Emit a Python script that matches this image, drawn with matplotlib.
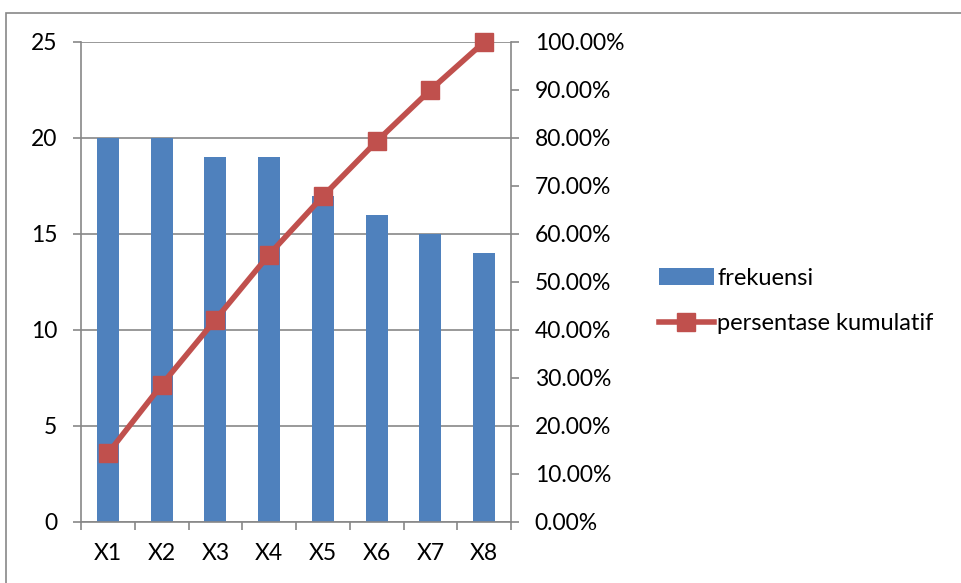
import numpy as np
from matplotlib import pyplot as plt
from matplotlib.patches import Rectangle

categories = ["X1", "X2", "X3", "X4", "X5", "X6", "X7", "X8"]
frekuensi = [20, 20, 19, 19, 17, 16, 15, 14]
persen_kumulatif = [14.29, 28.57, 42.14, 55.71, 67.86, 79.29, 90.00, 100.00]

BLUE = "#4F81BD"
RED = "#C0504D"
GREY = "#878787"

plt.rcParams["font.family"] = ["Lato", "DejaVu Sans"]
plt.rcParams["font.size"] = 16.5
plt.rcParams["text.color"] = "black"

fig = plt.figure(figsize=(9.61, 5.83), dpi=100)
fig.patches.append(Rectangle((6 / 961, -0.1), 1.2, (583 - 13) / 583 + 0.1,
                             transform=fig.transFigure, fill=False,
                             edgecolor=GREY, linewidth=1.2))

ax = fig.add_axes([81 / 961, 1 - 522 / 583, (511 - 81) / 961, (522 - 42) / 583])
x = np.arange(len(categories))
ax.bar(x, frekuensi, width=0.41, color=BLUE, zorder=2, label="frekuensi")
ax.set_xlim(-0.5, len(categories) - 0.5)
ax.set_ylim(0, 25)
ax.set_yticks(range(0, 26, 5))
ax.set_xticks(x)
ax.set_xticklabels(categories)
ax.set_xticks(np.arange(-0.5, len(categories)), minor=True)
ax.tick_params(axis="x", which="major", length=0, pad=15)
ax.tick_params(axis="x", which="minor", length=6, color=GREY, width=1.2)
ax.tick_params(axis="y", length=6, color=GREY, width=1.2, pad=11)
ax.yaxis.grid(True, color=GREY, linewidth=1.2, zorder=0)
ax.set_axisbelow(True)
for side in ["left", "bottom"]:
    ax.spines[side].set_color(GREY)
    ax.spines[side].set_linewidth(1.2)
ax.spines["top"].set_visible(False)
ax.spines["right"].set_visible(False)

ax2 = ax.twinx()
ax2.plot(x, persen_kumulatif, color=RED, linewidth=4, marker="s",
         markersize=13, zorder=3, clip_on=False, label="persentase kumulatif")
ax2.set_ylim(0, 100)
ax2.set_yticks(range(0, 101, 10))
ax2.set_yticklabels(["{:.2f}%".format(v) for v in range(0, 101, 10)])
ax2.tick_params(axis="y", length=6, color=GREY, width=1.2, pad=11)
ax2.spines["right"].set_color(GREY)
ax2.spines["right"].set_linewidth(1.2)
for side in ["left", "top", "bottom"]:
    ax2.spines[side].set_visible(False)

h1, l1 = ax.get_legend_handles_labels()
h2, l2 = ax2.get_legend_handles_labels()
fig.legend(h1 + h2, l1 + l2, loc="center left",
           bbox_to_anchor=(638 / 961, 1 - 301 / 583), frameon=False,
           handlelength=2.3, handletextpad=0.15, labelspacing=1.05,
           fontsize=17)

fig.savefig("out.png", dpi=100)
